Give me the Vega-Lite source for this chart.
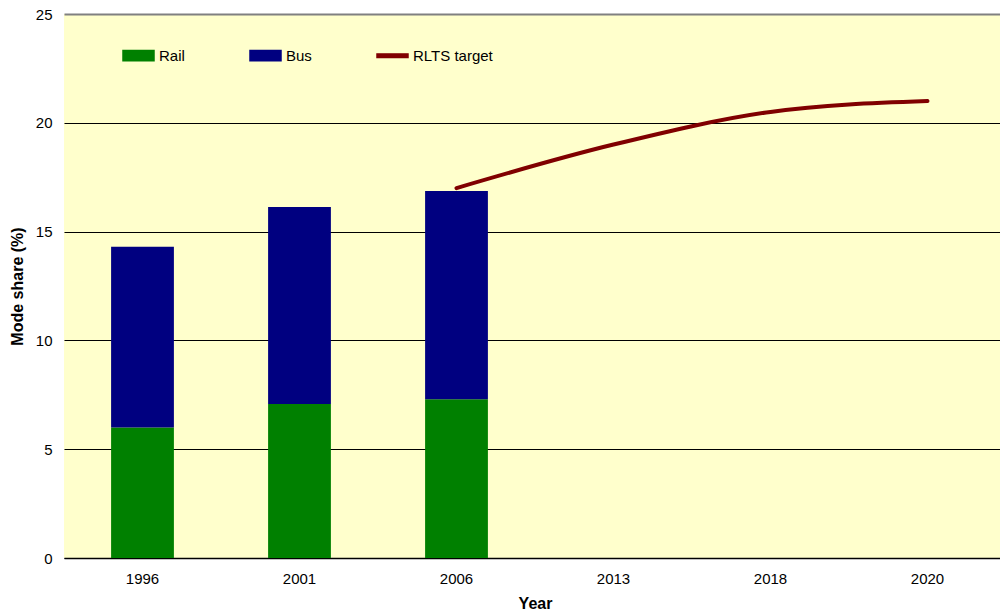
{
  "$schema": "https://vega.github.io/schema/vega-lite/v6.json",
  "width": 942,
  "height": 544,
  "autosize": {"type": "none"},
  "padding": {"left": 64, "top": 14, "right": 0, "bottom": 54},
  "background": "white",
  "config": {
    "font": "Liberation Sans",
    "view": {"fill": "#FFFFCC", "stroke": null}
  },
  "datasets": {
    "bars": [
      {"year": "1996", "mode": "Rail", "share": 6.0, "order": 1},
      {"year": "1996", "mode": "Bus", "share": 8.3, "order": 2},
      {"year": "2001", "mode": "Rail", "share": 7.08, "order": 1},
      {"year": "2001", "mode": "Bus", "share": 9.05, "order": 2},
      {"year": "2006", "mode": "Rail", "share": 7.3, "order": 1},
      {"year": "2006", "mode": "Bus", "share": 9.57, "order": 2},
      {"year": "2013", "mode": "Rail", "share": null, "order": 1},
      {"year": "2018", "mode": "Rail", "share": null, "order": 1},
      {"year": "2020", "mode": "Rail", "share": null, "order": 1}
    ],
    "target": [
      {"year": "2006", "mode": "RLTS target", "share": 17.0},
      {"year": "2013", "mode": "RLTS target", "share": 19.0},
      {"year": "2018", "mode": "RLTS target", "share": 20.5},
      {"year": "2020", "mode": "RLTS target", "share": 21.0}
    ]
  },
  "encoding": {
    "x": {
      "field": "year",
      "type": "ordinal",
      "sort": ["1996", "2001", "2006", "2013", "2018", "2020"],
      "scale": {"type": "band", "domain": ["1996", "2001", "2006", "2013", "2018", "2020"], "paddingInner": 0.6, "paddingOuter": 0.3},
      "axis": {
        "title": "Year",
        "titleFont": "Liberation Sans",
        "titleFontSize": 16,
        "titleFontWeight": "bold",
        "titleColor": "black",
        "titlePadding": 9,
        "labelAngle": 0,
        "labelFont": "Liberation Sans",
        "labelFontSize": 15,
        "labelColor": "black",
        "labelPadding": 13,
        "ticks": false,
        "domainColor": "black",
        "domainWidth": 1.5,
        "grid": false
      }
    },
    "y": {
      "field": "share",
      "type": "quantitative",
      "scale": {"domain": [0, 25], "nice": false},
      "axis": {
        "title": "Mode share (%)",
        "titleFont": "Liberation Sans",
        "titleFontSize": 16,
        "titleFontWeight": "bold",
        "titleColor": "black",
        "titlePadding": 10,
        "values": [0, 5, 10, 15, 20, 25],
        "labelFont": "Liberation Sans",
        "labelFontSize": 15,
        "labelColor": "black",
        "labelPadding": 12,
        "ticks": false,
        "domain": false,
        "grid": true,
        "gridColor": {"condition": {"test": "datum.value === 25", "value": "#808080"}, "value": "black"},
        "gridWidth": {"condition": {"test": "datum.value === 25", "value": 2}, "value": 1},
        "gridOpacity": 1
      }
    },
    "color": {
      "field": "mode",
      "type": "nominal",
      "scale": {"domain": ["Rail", "Bus", "RLTS target"], "range": ["#008000", "#000080", "#800000"]},
      "legend": {
        "title": null,
        "orient": "none",
        "legendX": 58,
        "legendY": 25,
        "direction": "horizontal",
        "columns": 3,
        "columnPadding": 62,
        "padding": 0,
        "symbolSize": 961,
        "symbolType": "M-1,-0.33H1V0.33H-1Z",
        "labelFont": "Liberation Sans",
        "labelFontSize": 15,
        "labelColor": "black",
        "labelOffset": 4,
        "encode": {
          "symbols": {
            "update": {
              "shape": {"signal": "datum.value === 'RLTS target' ? 'M-1,-0.12H1V0.12H-1Z' : 'M-1,-0.33H1V0.33H-1Z'"},
              "fill": {"scale": "color", "field": "value"},
              "stroke": {"value": "transparent"},
              "opacity": {"value": 1},
              "fillOpacity": {"value": 1}
            }
          }
        }
      }
    }
  },
  "layer": [
    {
      "data": {"name": "bars"},
      "mark": {"type": "bar"},
      "encoding": {
        "order": {"field": "order", "type": "quantitative"}
      }
    },
    {
      "data": {"name": "target"},
      "mark": {"type": "line", "strokeWidth": 4, "interpolate": "monotone", "strokeCap": "round"}
    }
  ]
}
